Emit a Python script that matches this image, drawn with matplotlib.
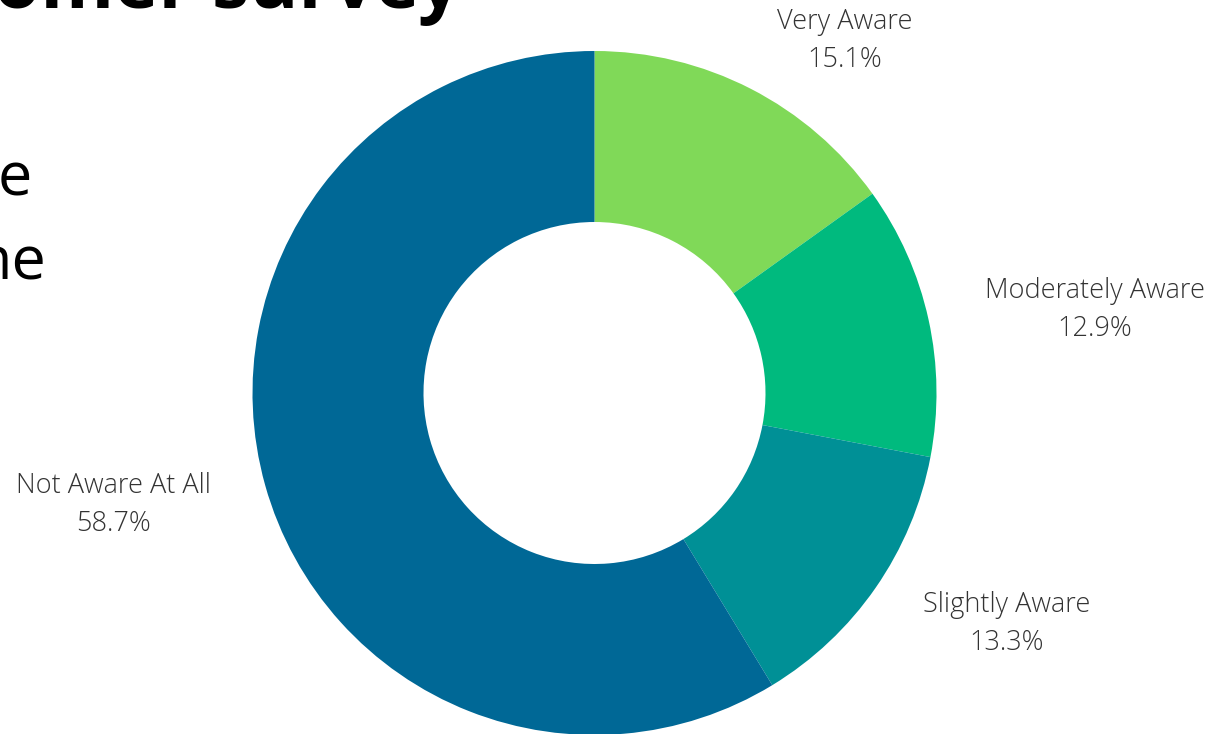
import matplotlib
matplotlib.use("Agg")
import matplotlib.pyplot as plt

# awareness survey results
categories = ["Very Aware", "Moderately Aware", "Slightly Aware", "Not Aware At All"]
shares = [15.1, 12.9, 13.3, 58.7]
colors = ["#80D958", "#00BA7E", "#009096", "#006896"]

# label anchor points (pixels from top-left of the canvas)
label_pos = [(845, 41), (1095, 310), (1007, 624), (113, 505)]

W, H = 1222, 734

plt.rcParams["font.family"] = ["Open Sans", "DejaVu Sans"]

fig = plt.figure(figsize=(W / 100, H / 100), dpi=100)
ax = fig.add_axes([0, 0, 1, 1])
ax.set_xlim(0, W)
ax.set_ylim(0, H)
ax.set_aspect("equal")
ax.axis("off")

ax.pie(shares, colors=colors, startangle=90, counterclock=False,
       center=(594.5, H - 393), radius=342,
       wedgeprops=dict(width=171, edgecolor="none"))
ax.set_xlim(0, W)
ax.set_ylim(0, H)

for name, val, (x, y) in zip(categories, shares, label_pos):
    ax.text(x, H - y, f"{name}\n{val}%", ha="center", va="center",
            fontsize=19.5, color="#333333", fontweight="light",
            linespacing=1.5)

# cut-off heading and side text from the surrounding slide
ax.text(-6, H - 8, "omer survey", ha="left", va="baseline",
        fontsize=54, fontweight="bold", color="black")
ax.text(32, H - 195, "e", ha="right", va="baseline",
        fontsize=44, color="black")
ax.text(47, H - 279, "ne", ha="right", va="baseline",
        fontsize=44, color="black")

fig.savefig("out.png", dpi=100)
